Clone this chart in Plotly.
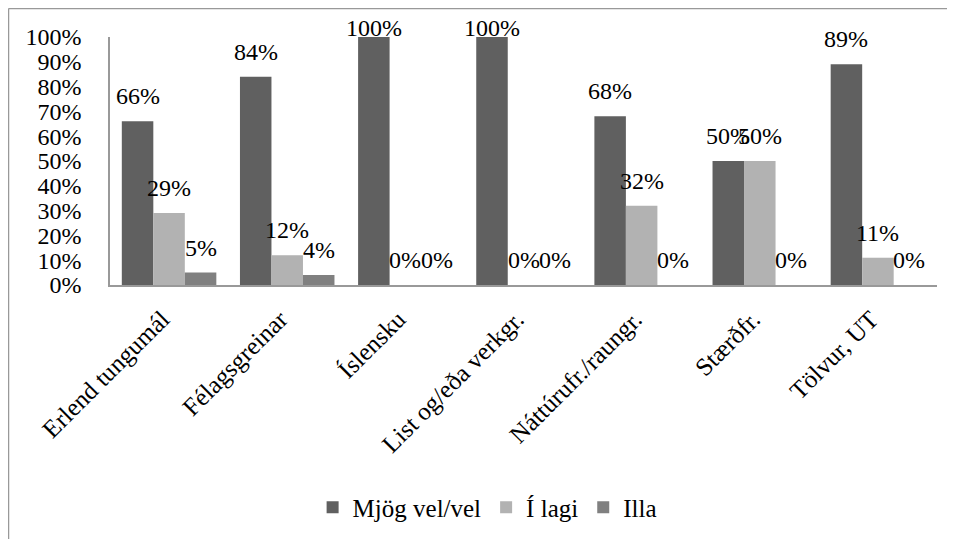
import plotly.graph_objects as go

categories = ["Erlend tungumál", "Félagsgreinar", "Íslensku", "List og/eða verkgr.",
              "Náttúrufr./raungr.", "Stærðfr.", "Tölvur, UT"]
series_names = ["Mjög vel/vel", "Í lagi", "Illa"]
mjog_vel = [0.66, 0.84, 1.00, 1.00, 0.68, 0.50, 0.89]
i_lagi = [0.29, 0.12, 0.00, 0.00, 0.32, 0.50, 0.11]
illa = [0.05, 0.04, 0.00, 0.00, 0.00, 0.00, 0.00]
y_ticks = [0, 0.1, 0.2, 0.3, 0.4, 0.5, 0.6, 0.7, 0.8, 0.9, 1.0]

colors = ["#606060", "#b2b2b2", "#808080"]
FONT = "Liberation Serif"
# page has an 8px body margin; figure is sized to fit the window
W, H = 947, 533
ML, MR, MT, MB = 102, 18, 29, 255
plot_w = W - ML - MR
plot_h = H - MT - MB
bargap = 0.2

fig = go.Figure()
all_series = [mjog_vel, i_lagi, illa]
for name, vals, col in zip(series_names, all_series, colors):
    fig.add_trace(go.Bar(name=name, x=categories, y=vals, marker_color=col,
                         marker_line_width=0))

# data labels
cat_w = plot_w / len(categories)
bar_w = cat_w * (1 - bargap) / len(all_series)
annotations = []
for si, vals in enumerate(all_series):
    xshift = (si - (len(all_series) - 1) / 2) * bar_w
    for c, v in zip(categories, vals):
        top_px = MT + (1 - v) * plot_h
        yshift = min(25, top_px - 20)
        annotations.append(dict(x=c, y=v, xref="x", yref="y", text=f"{round(v*100)}%",
                                showarrow=False, xshift=xshift, yshift=yshift,
                                yanchor="middle", xanchor="center",
                                font=dict(family=FONT, size=24, color="black")))

frame_top = (H - MB - 0.5) / plot_h
frame_left = (0.5 - ML) / plot_w
fig.update_layout(
    width=W, height=H,
    margin=dict(l=ML, r=MR, t=MT, b=MB),
    paper_bgcolor="white", plot_bgcolor="white",
    barmode="group", bargap=bargap, bargroupgap=0,
    font=dict(family=FONT, size=24, color="black"),
    annotations=annotations,
    legend=dict(orientation="h", x=0.456, xanchor="center", y=-0.89, yanchor="middle",
                font=dict(family=FONT, size=25), itemsizing="constant"),
    shapes=[
        dict(type="line", xref="paper", yref="paper",
             x0=frame_left, x1=(W - ML) / plot_w,
             y0=frame_top, y1=frame_top,
             line=dict(color="#999999", width=1.5)),
        dict(type="line", xref="paper", yref="paper",
             x0=frame_left, x1=frame_left,
             y0=frame_top, y1=-(MB) / plot_h,
             line=dict(color="#999999", width=1.5)),
    ],
)
fig.update_xaxes(showline=True, linecolor="#999999", linewidth=1.5, showgrid=False,
                 tickangle=-45, ticks="", tickfont=dict(family=FONT, size=25),
                 ticklabelstandoff=8, ticklabelshift=-7)
fig.update_yaxes(range=[0, 1], showline=True, linecolor="#999999", linewidth=1.5,
                 showgrid=False, zeroline=False, tickvals=y_ticks,
                 ticktext=[f"{round(t*100)}%" for t in y_ticks], ticks="",
                 ticklabelstandoff=22, tickfont=dict(family=FONT, size=24))

fig.write_html("out.html")
